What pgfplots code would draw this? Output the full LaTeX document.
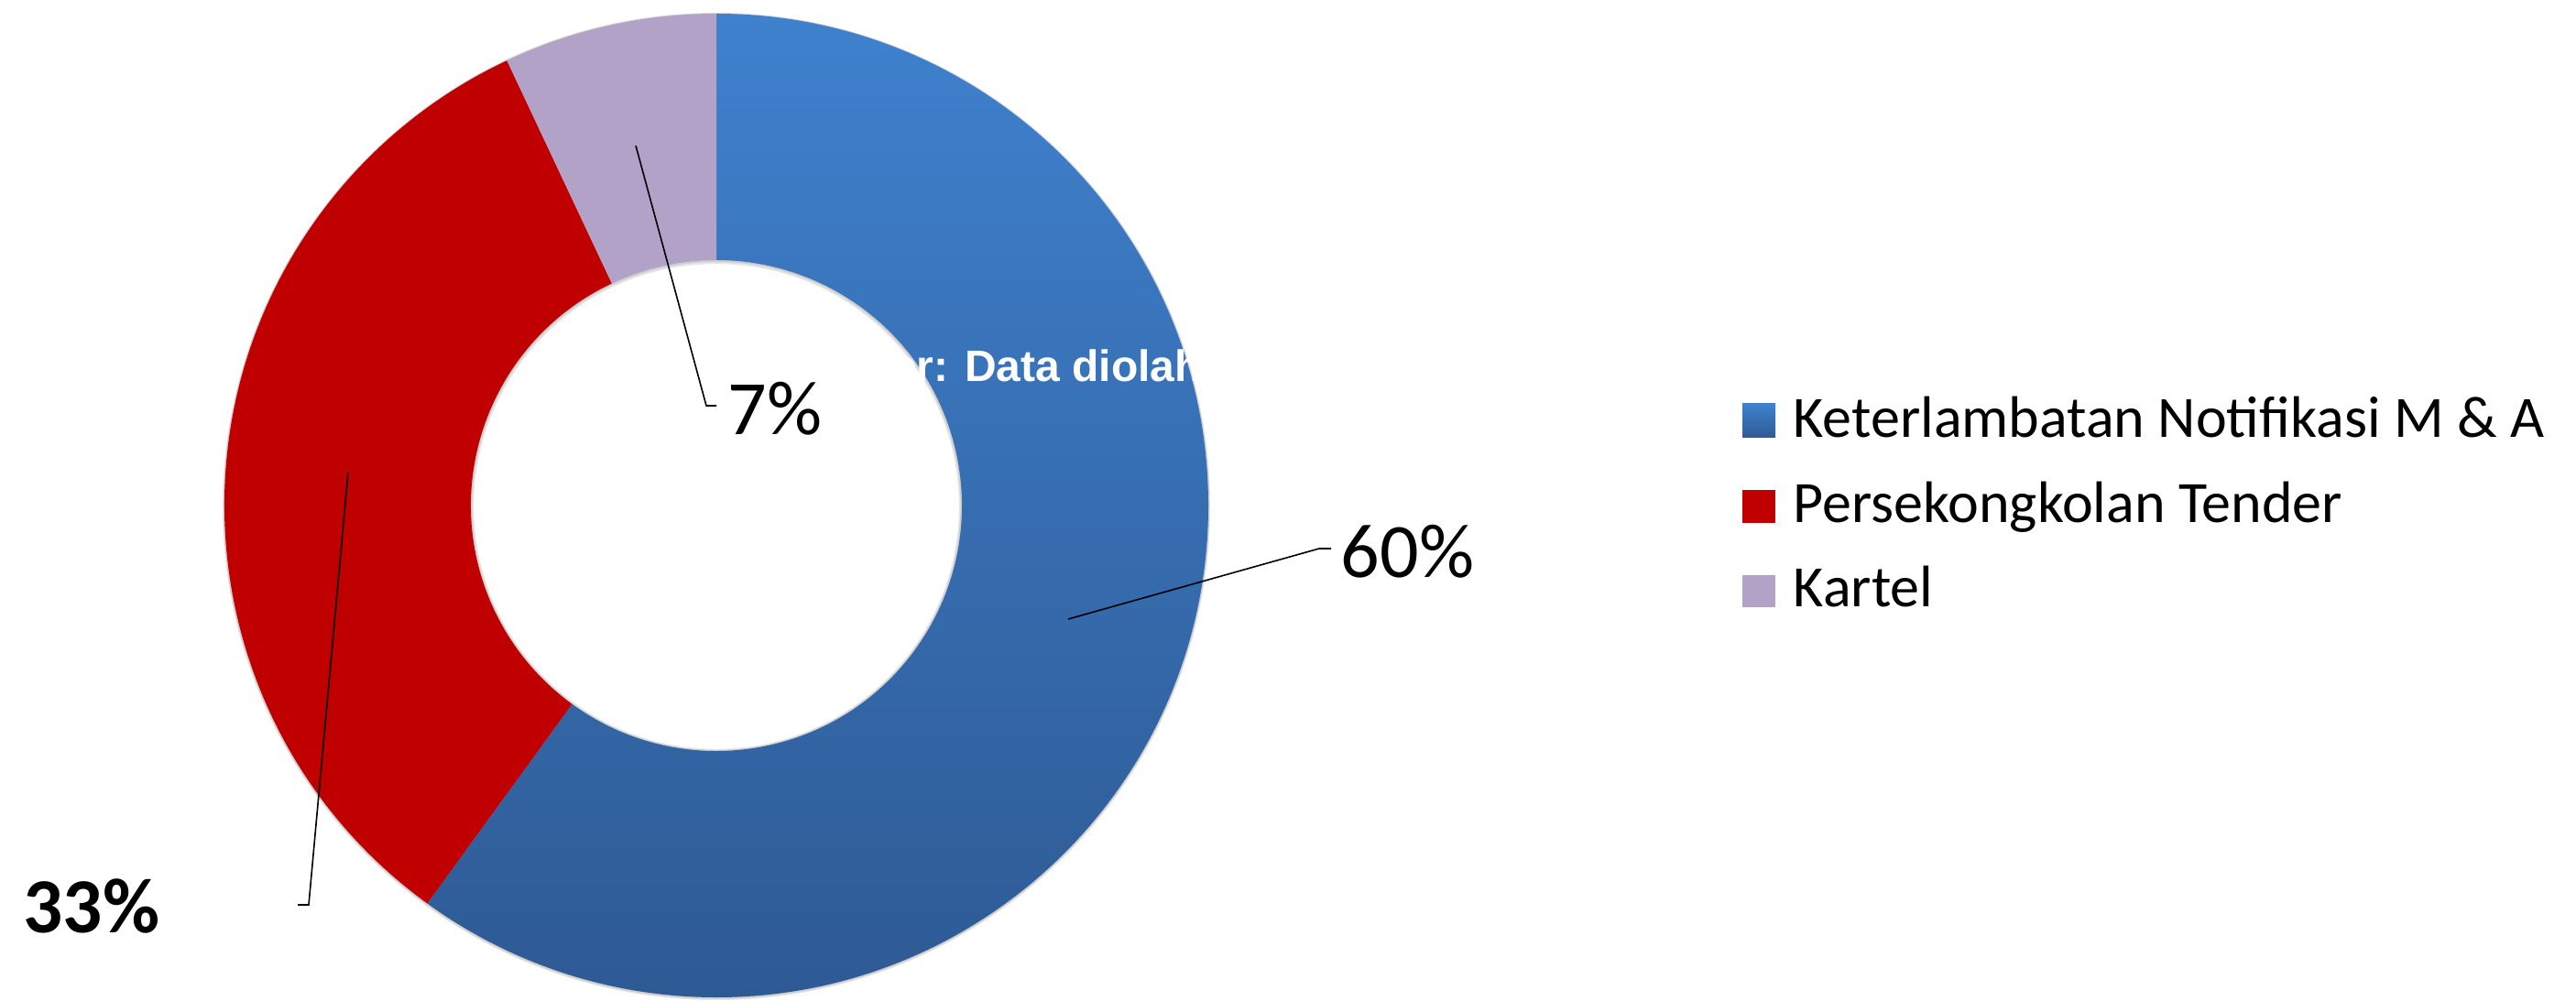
\documentclass[border=0pt]{standalone}
\usepackage{pgfplots}
\pgfplotsset{compat=1.18}
\usepackage{fontspec}
\setmainfont{Carlito}
\newfontfamily\arialfont{Liberation Sans}
\definecolor{bluetop}{RGB}{63,129,206}
\definecolor{bluebot}{RGB}{46,90,148}
\definecolor{redc}{RGB}{192,0,0}
\definecolor{purc}{RGB}{179,162,199}

% data (percent)
\def\vA{60}% Keterlambatan Notifikasi M & A
\def\vB{33}% Persekongkolan Tender
\def\vC{7}% Kartel
\pgfmathsetmacro\aA{90}
\pgfmathsetmacro\aB{\aA-3.6*\vA}
\pgfmathsetmacro\aC{\aB-3.6*\vB}
\pgfmathsetmacro\aD{\aC-3.6*\vC}
\pgfmathsetmacro\aBo{\aB+180}
\pgfmathsetmacro\aCo{\aC+180}
\pgfmathsetmacro\aDo{\aD+180}
\def\Ro{134.25pt}
\def\Ri{67pt}
\def\Rd{67.25pt}

\begin{document}
\begin{tikzpicture}
\begin{axis}[scale only axis, width=703pt, height=273pt,
  xmin=0, xmax=2812, ymin=0, ymax=1092, hide axis, clip=false]
\path (axis cs:0,0) rectangle (axis cs:2812,1092);
% soft shadow
\fill[black, opacity=0.10, even odd rule] (axis cs:782,539) circle[radius=134.75pt] (axis cs:782,539) circle[radius=66.2pt];
\fill[black, opacity=0.10, even odd rule] (axis cs:782,539.5) circle[radius=134.55pt] (axis cs:782,539.5) circle[radius=66.6pt];
% slices
\shade[top color=bluetop, bottom color=bluebot] (axis cs:782,540) ++(\aA:\Ro) arc[start angle=\aA, end angle=\aB, radius=\Ro] -- ++(\aBo:\Rd) arc[start angle=\aB, end angle=\aA, radius=\Ri] -- cycle;
\fill[redc] (axis cs:782,540) ++(\aB:\Ro) arc[start angle=\aB, end angle=\aC, radius=\Ro] -- ++(\aCo:\Rd) arc[start angle=\aC, end angle=\aB, radius=\Ri] -- cycle;
\fill[purc] (axis cs:782,540) ++(\aC:\Ro) arc[start angle=\aC, end angle=\aD, radius=\Ro] -- ++(\aDo:\Rd) arc[start angle=\aD, end angle=\aC, radius=\Ri] -- cycle;
% hidden source text
\node[anchor=base west, inner sep=0, text=white, font=\arialfont\bfseries\fontsize{12}{14}\selectfont] at (axis cs:840,675) {Sumber: Data diolah};
% leader lines
\draw[black, line width=0.4pt] (axis cs:1166,416) -- (axis cs:1440,493) -- (axis cs:1453,493);
\draw[black, line width=0.4pt] (axis cs:694,933) -- (axis cs:771,649) -- (axis cs:782,649);
\draw[black, line width=0.4pt] (axis cs:380,576) -- (axis cs:337,104) -- (axis cs:325,104);
% labels
\node[anchor=base west, inner sep=0, font=\fontsize{21}{25}\selectfont] at (axis cs:1463,461) {60\%};
\node[anchor=base west, inner sep=0, font=\fontsize{21}{25}\selectfont] at (axis cs:794,617) {7\%};
\node[anchor=base west, inner sep=0, font=\bfseries\fontsize{21.3}{25}\selectfont] at (axis cs:25,74) {33\%};
% legend
\shade[top color=bluetop, bottom color=bluebot] (axis cs:1902,614) rectangle (axis cs:1938,651);
\fill[redc] (axis cs:1902,521) rectangle (axis cs:1938,557);
\fill[purc] (axis cs:1902,429) rectangle (axis cs:1938,464);
\node[anchor=base west, inner sep=0, font=\fontsize{16}{19}\selectfont] at (axis cs:1957,614) {Keterlambatan Notifikasi M \& A};
\node[anchor=base west, inner sep=0, font=\fontsize{16}{19}\selectfont] at (axis cs:1957,521) {Persekongkolan Tender};
\node[anchor=base west, inner sep=0, font=\fontsize{16}{19}\selectfont] at (axis cs:1957,429) {Kartel};
\end{axis}
\end{tikzpicture}
\end{document}
